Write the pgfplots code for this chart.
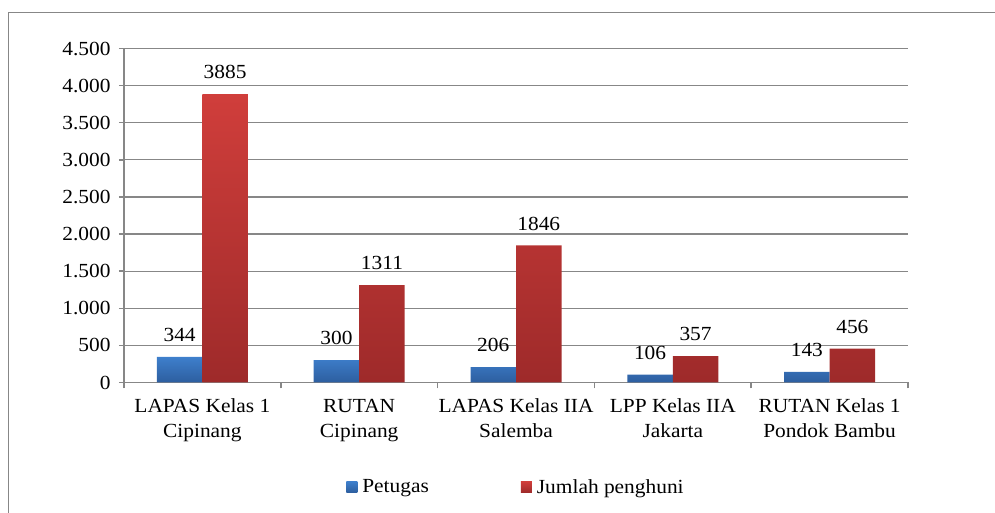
\documentclass[border=0pt]{standalone}
\usepackage{fontspec}
\setmainfont{Liberation Serif}[FakeStretch=1.07]
\usepackage{pgfplots}
\pgfplotsset{compat=1.18}
\definecolor{btop}{HTML}{3E7FCC}
\definecolor{bbot}{HTML}{2D5E9F}
\definecolor{rtop}{HTML}{D03E3B}
\definecolor{rbot}{HTML}{9E2A2A}
\definecolor{gridc}{HTML}{878787}
\newcommand{\ff}{\fontsize{20}{25}\selectfont}
\begin{document}
\begin{tikzpicture}
\useasboundingbox (-124pt,-130.5pt) rectangle (871pt,382.5pt);
\draw[gridc, line width=1.8pt] (-115.5pt,-200pt) -- (-115.5pt,370pt) -- (1000pt,370pt);
\begin{axis}[
  at={(0pt,0pt)}, anchor=south west,
  scale only axis, width=784pt, height=334pt,
  ybar=0pt, bar width=45.5pt,
  xmin=-0.5, xmax=4.5, ymin=0, ymax=4500,
  ytick={0,500,...,4500},
  xtick={0,1,2,3,4},
  xticklabels={{LAPAS Kelas 1\\Cipinang},{RUTAN\\Cipinang},{LAPAS Kelas IIA\\Salemba},{LPP Kelas IIA\\Jakarta},{RUTAN Kelas 1\\Pondok Bambu}},
  minor xtick={-0.5,0.5,1.5,2.5,3.5,4.5},
  major x tick style={draw=none},
  minor x tick style={gridc, line width=1.5pt},
  y tick style={gridc, line width=1.5pt},
  tick align=outside,
  major tick length=5pt, minor tick length=6pt,
  axis x line*=bottom, axis y line*=left,
  axis line style={gridc, line width=1.5pt, -},
  ymajorgrids, grid style={gridc, line width=1.3pt},
  /pgf/number format/.cd, 1000 sep={.}, assume math mode=true, /pgfplots/.cd,
  yticklabel style={font=\ff, xshift=-5pt},
  xticklabel style={font=\ff, align=center, yshift=-8pt},
  nodes near coords,
  nodes near coords style={font=\ff, anchor=south, inner sep=0pt, yshift=15pt, text=black,
     /pgf/number format/1000 sep={}},
  legend style={at={(0.5,0)}, anchor=center, yshift=-104.5pt, draw=none, fill=none,
     legend columns=2, font=\ff, inner sep=0pt,
     /tikz/every odd column/.append style={column sep=3pt},
     /tikz/every even column/.append style={column sep=90pt}},
  legend cell align=left,
  legend image code/.code={\path[#1, draw=none] (0pt,-5.5pt) rectangle (11pt,5.5pt);},
]
\addplot[draw=none, top color=btop, bottom color=bbot] coordinates {(0,344) (1,300) (2,206) (3,106) (4,143)};
\addplot[draw=none, top color=rtop, bottom color=rbot] coordinates {(0,3885) (1,1311) (2,1846) (3,357) (4,456)};
\legend{Petugas, Jumlah penghuni}
\end{axis}
\end{tikzpicture}
\end{document}
